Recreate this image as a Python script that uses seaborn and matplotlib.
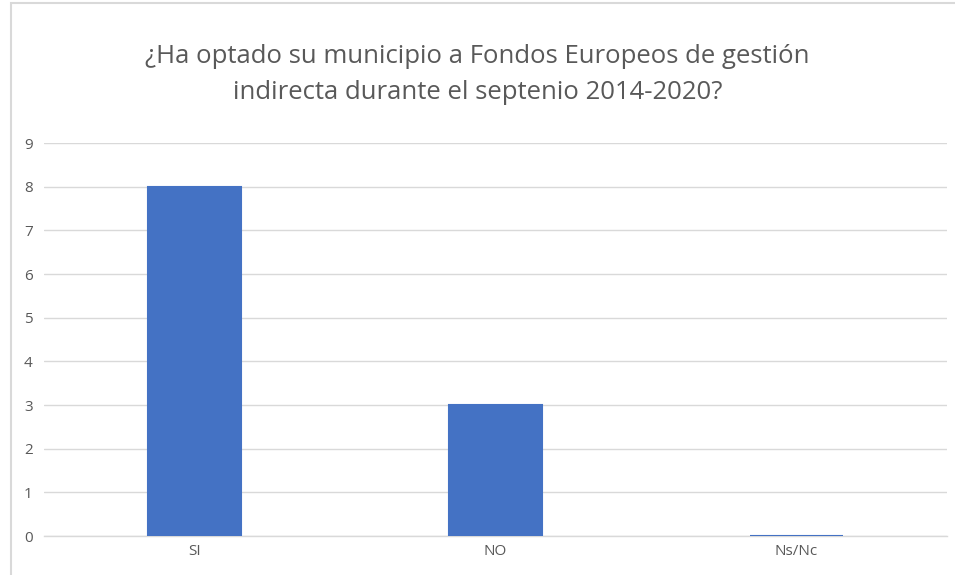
import pandas as pd
import seaborn as sns
import matplotlib.pyplot as plt
from matplotlib.patches import Rectangle

# datos
respuestas = ["SI", "NO", "Ns/Nc"]
municipios = [8, 3, 0]
ticks_y = list(range(0, 10))

df = pd.DataFrame({"Respuesta": respuestas, "Municipios": municipios})

sns.set_theme(style="white")
plt.rcParams["font.family"] = ["Open Sans", "DejaVu Sans"]

azul = "#4472C4"
gris_texto = "#595959"
gris_rejilla = "#D9D9D9"

fig = plt.figure(figsize=(9.55, 5.75), dpi=100)
ax = fig.add_axes([0.046, 0.0678, 0.9456, 0.6835])

sns.barplot(data=df, x="Respuesta", y="Municipios", color=azul, saturation=1,
            width=0.31, edgecolor=azul, linewidth=1.5, ax=ax)
for barra in ax.patches:
    barra.set_zorder(4)

ax.set_ylim(0, 9)
ax.set_xlim(-0.5, 2.5)
ax.set_yticks(ticks_y)
ax.yaxis.grid(True, color=gris_rejilla, linewidth=1, zorder=0)
ax.set_axisbelow(True)
ax.set_xlabel("")
ax.set_ylabel("")
ax.tick_params(axis="both", length=0, labelsize=11, colors=gris_texto)
ax.tick_params(axis="y", pad=8)
ax.tick_params(axis="x", pad=6)
for lado in ["left", "right", "top"]:
    ax.spines[lado].set_visible(False)
ax.spines["bottom"].set_color(gris_rejilla)
ax.spines["bottom"].set_linewidth(1)
ax.spines["bottom"].set_zorder(1)

fig.text(0.5, 0.87, "¿Ha optado su municipio a Fondos Europeos de gestión\n"
         "indirecta durante el septenio 2014-2020?",
         ha="center", va="center", fontsize=18.5, color=gris_texto,
         linespacing=1.6)

# marco del gráfico
fig.patches.append(Rectangle((0.011, -0.01), 1.0, 1.005, transform=fig.transFigure,
                             fill=False, edgecolor=gris_rejilla, linewidth=1.5))

plt.savefig("out.png", dpi=100)
